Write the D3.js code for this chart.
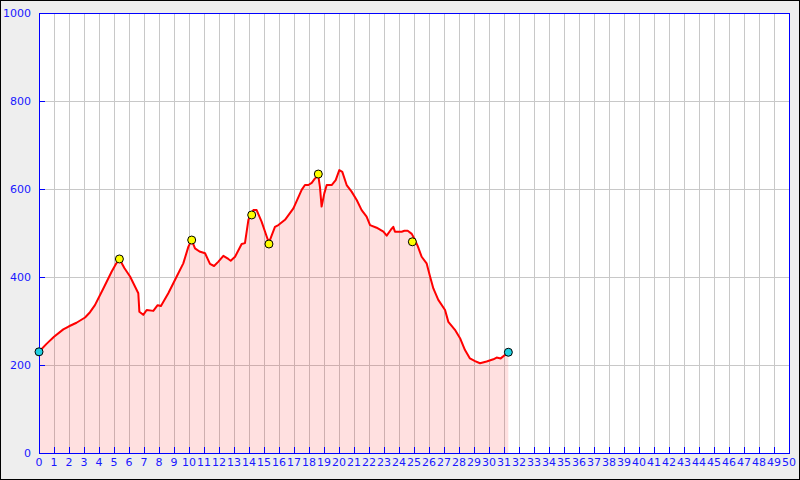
<!DOCTYPE html>
<html><head><meta charset="utf-8">
<script src="https://cdn.jsdelivr.net/npm/d3@7"></script>
<style>
html,body{margin:0;padding:0;background:#eeeeee;}
svg{display:block;}
</style></head>
<body>
<script>
// Distance (km) and elevation (m) of the profile
const distance = [0,0.5,1.0,1.62,2.0,2.5,3.07,3.4,3.73,4.29,4.84,5.1,5.36,5.7,6.07,6.62,6.66,6.69,6.95,7.18,7.62,7.91,8.13,8.62,9.18,9.62,9.96,10.18,10.4,10.7,11.07,11.4,11.67,11.96,12.29,12.62,12.78,13.07,13.51,13.73,13.96,14.29,14.51,14.84,15.18,15.33,15.73,15.96,16.4,16.96,17.51,17.73,17.96,18.18,18.4,18.62,18.73,18.84,19.02,19.18,19.51,19.78,20.02,20.22,20.51,20.84,21.18,21.51,21.84,22.07,22.51,22.96,23.18,23.47,23.62,23.73,24.18,24.36,24.58,24.85,25.07,25.25,25.51,25.84,26.07,26.29,26.62,27.07,27.29,27.73,28.07,28.4,28.73,29.07,29.4,29.84,30.29,30.51,30.78,31.29];
const elevation = [230,248,264,281,288,296,308,320,336,374,412,428,441,420,401,363,340,321,314,325,323,336,334,363,401,431,469,484,465,458,454,430,425,435,448,441,437,446,475,477,530,552,552,526,492,478,514,518,530,556,598,609,609,614,624,630,605,560,590,609,609,620,643,639,609,594,575,552,537,518,512,503,494,508,514,503,503,505,505,498,484,470,446,431,401,374,348,325,298,280,261,234,215,209,204,208,213,217,215,229];
// Waypoint markers
const markerDist = [0,5.36,10.18,14.18,15.33,18.62,24.89,31.29];
const markerElev = [230,441,484,541,475,634,480,229];
const markerType = ["end","peak","peak","peak","peak","peak","peak","end"];
// Axis ticks
const xTicks = d3.range(0,51,1);
const yTicks = [0,200,400,600,800,1000];

const W=800,H=480;
const m={l:39,r:11,t:13,b:27};
const svg=d3.select("body").append("svg").attr("width",W).attr("height",H);
svg.append("rect").attr("x",0.5).attr("y",0.5).attr("width",W-1).attr("height",H-1)
  .attr("fill","#eeeeee").attr("stroke","#000").attr("stroke-width",1);

const x=d3.scaleLinear().domain([0,50]).range([m.l,W-m.r]);
const y=d3.scaleLinear().domain([0,1000]).range([H-m.b,m.t]);

svg.append("rect").attr("x",x(0)).attr("y",y(1000)).attr("width",x(50)-x(0)).attr("height",y(0)-y(1000)).attr("fill","#fff");

const g=svg.append("g").attr("shape-rendering","crispEdges");
g.selectAll("line.vx").data(xTicks.filter(d=>d>0&&d<50)).enter().append("line")
  .attr("x1",d=>Math.round(x(d))+0.5).attr("x2",d=>Math.round(x(d))+0.5)
  .attr("y1",y(1000)).attr("y2",y(0)).attr("stroke","#c8c8c8");
g.selectAll("line.hy").data(yTicks.filter(d=>d>0&&d<1000)).enter().append("line")
  .attr("y1",d=>Math.round(y(d))+0.5).attr("y2",d=>Math.round(y(d))+0.5)
  .attr("x1",x(0)).attr("x2",x(50)).attr("stroke","#c8c8c8");

const pts=distance.map((d,i)=>[d,elevation[i]]);
const area=d3.area().x(d=>x(d[0])).y0(y(0)).y1(d=>y(d[1]));
const line=d3.line().x(d=>x(d[0])).y(d=>y(d[1]));
svg.append("path").datum(pts).attr("d",area).attr("fill","rgba(255,0,0,0.12)");
svg.append("path").datum(pts).attr("d",line).attr("fill","none").attr("stroke","#ff0000").attr("stroke-width",2).attr("stroke-linejoin","round");

// blue frame and ticks
const fr=svg.append("g").attr("shape-rendering","crispEdges");
fr.append("rect").attr("x",x(0)+0.5).attr("y",y(1000)+0.5).attr("width",x(50)-x(0)).attr("height",y(0)-y(1000))
  .attr("fill","none").attr("stroke","#0000ff");
fr.selectAll("line.xt").data(xTicks).enter().append("line")
  .attr("x1",d=>Math.round(x(d))+0.5).attr("x2",d=>Math.round(x(d))+0.5)
  .attr("y1",y(0)).attr("y2",y(0)-6).attr("stroke","#0000ff");
fr.selectAll("line.yt").data(yTicks).enter().append("line")
  .attr("y1",d=>Math.round(y(d))+0.5).attr("y2",d=>Math.round(y(d))+0.5)
  .attr("x1",x(0)).attr("x2",x(0)+6).attr("stroke","#0000ff");

svg.selectAll("text.xl").data(xTicks).enter().append("text")
  .attr("x",d=>x(d)).attr("y",y(0)+13).attr("text-anchor","middle")
  .attr("font-family","DejaVu Sans").attr("font-size",11).attr("fill","#1818ff").text(d=>d);
svg.selectAll("text.yl").data(yTicks).enter().append("text")
  .attr("x",x(0)-8).attr("y",d=>y(d)+4).attr("text-anchor","end")
  .attr("font-family","DejaVu Sans").attr("font-size",11).attr("fill","#1818ff").text(d=>d);

svg.selectAll("circle.mk").data(markerDist).enter().append("circle")
  .attr("cx",d=>x(d)).attr("cy",(d,i)=>y(markerElev[i])).attr("r",4)
  .attr("fill",(d,i)=>markerType[i]==="end"?"#22d0e0":"#ffff00")
  .attr("stroke","#000").attr("stroke-width",1);
</script>
</body></html>
